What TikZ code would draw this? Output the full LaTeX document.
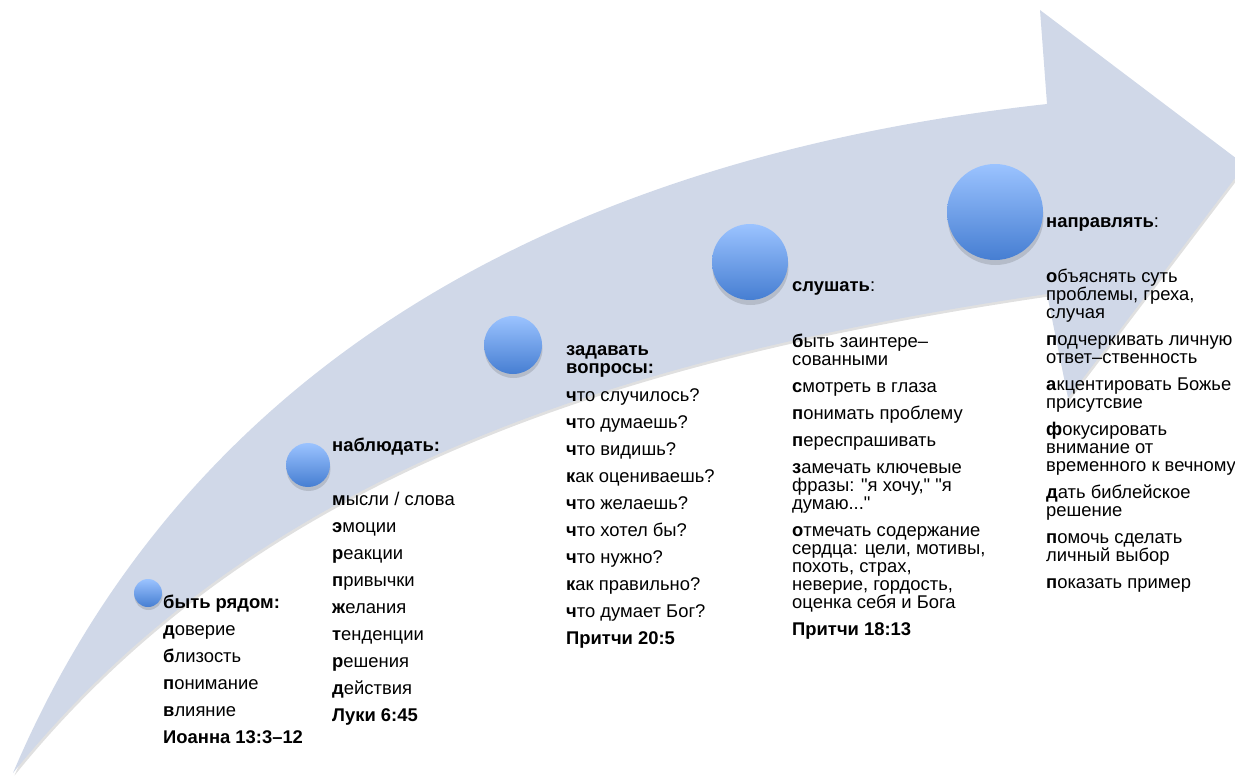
\documentclass[tikz,border=0pt]{standalone}
\usepackage{fontspec}
\setmainfont{Liberation Sans}[Ligatures=TeXOff]
\definecolor{arrowfill}{RGB}{208,216,232}
\definecolor{balltop}{RGB}{155,195,255}
\definecolor{ballbot}{RGB}{70,126,210}
\newcommand{\fl}{\rule{0pt}{13pt}}
\tikzset{
  lbl/.style={anchor=north west, align=left, inner sep=0pt, font=\fontsize{18.4}{18}\selectfont},
  ball/.style={circle, inner sep=0pt, shading=axis, top color=balltop, bottom color=ballbot},
  ballshadow/.style={circle, inner sep=0pt, fill=black, opacity=0.13}
}
\begin{document}
\begin{tikzpicture}[x=1pt,y=-1pt]
\useasboundingbox (0,0) rectangle (1235,776);
\clip (0,0) rectangle (1235,776);
% arrow shadow
\begin{scope}[shift={(1.5,2.5)}]
\fill[black, opacity=0.12] (13,773) .. controls (150,450) and (450,170) .. (1047,104) -- (1040,10) -- (1245,165) -- (1068,398) -- (1047,294) .. controls (600,360) and (250,480) .. (13,773) -- cycle;
\end{scope}
% arrow
\fill[arrowfill] (13,773) .. controls (150,450) and (450,170) .. (1047,104) -- (1040,10) -- (1245,165) -- (1068,398) -- (1047,294) .. controls (600,360) and (250,480) .. (13,773) -- cycle;
% ball shadows
\node[ballshadow, minimum size=28pt] at (148.5,596) {};
\node[ballshadow, minimum size=44pt] at (308.5,469) {};
\node[ballshadow, minimum size=58pt] at (513.5,349) {};
\node[ballshadow, minimum size=76pt] at (750.5,267) {};
\node[ballshadow, minimum size=96pt] at (995.5,217) {};
% balls
\node[ball, minimum size=28pt] (c1) at (148,593) {};
\node[ball, minimum size=44pt] (c2) at (308,465) {};
\node[ball, minimum size=58pt] (c3) at (513,345) {};
\node[ball, minimum size=76pt] (c4) at (750,262) {};
\node[ball, minimum size=96pt] (c5) at (995,212) {};
% texts
\node[lbl] (t1) at (163,595) {\fl\textbf{быть рядом:}\\[9pt]
\textbf{д}оверие\\[9pt]
\textbf{б}лизость\\[9pt]
\textbf{п}онимание\\[9pt]
\textbf{в}лияние\\[9pt]
\textbf{Иоанна 13:3–12}};
\node[lbl] (t2) at (332,438) {\fl\textbf{наблюдать:}\\[36pt]
\textbf{м}ысли / слова\\[9pt]
\textbf{э}моции\\[9pt]
\textbf{р}еакции\\[9pt]
\textbf{п}ривычки\\[9pt]
\textbf{ж}елания\\[9pt]
\textbf{т}енденции\\[9pt]
\textbf{р}ешения\\[9pt]
\textbf{д}ействия\\[9pt]
\textbf{Луки 6:45}};
\node[lbl] (t3) at (566,342) {\fl\textbf{задавать}\\
\textbf{вопросы:}\\[10pt]
\textbf{ч}то случилось?\\[9pt]
\textbf{ч}то думаешь?\\[9pt]
\textbf{ч}то видишь?\\[9pt]
\textbf{к}ак оцениваешь?\\[9pt]
\textbf{ч}то желаешь?\\[9pt]
\textbf{ч}то хотел бы?\\[9pt]
\textbf{ч}то нужно?\\[9pt]
\textbf{к}ак правильно?\\[9pt]
\textbf{ч}то думает Бог?\\[9pt]
\textbf{Притчи 20:5}};
\node[lbl] (t4) at (792,278) {\fl\textbf{слушать}:\\[38pt]
\textbf{б}ыть заинтере–\\
сованными\\[9pt]
\textbf{с}мотреть в глаза\\[9pt]
\textbf{п}онимать проблему\\[9pt]
\textbf{п}ереспрашивать\\[9pt]
\textbf{з}амечать ключевые\\
фразы: "я хочу," "я\\
думаю..."\\[9pt]
\textbf{о}тмечать содержание\\
сердца: цели, мотивы,\\
похоть, страх,\\
неверие, гордость,\\
оценка себя и Бога\\[9pt]
\textbf{Притчи 18:13}};
\node[lbl] (t5) at (1046,214) {\fl\textbf{направлять}:\\[37pt]
\textbf{о}бъяснять суть\\
проблемы, греха,\\
случая\\[9pt]
\textbf{п}одчеркивать личную\\
ответ–ственность\\[9pt]
\textbf{а}кцентировать Божье\\
присутсвие\\[9pt]
\textbf{ф}окусировать\\
внимание от\\
временного к вечному\\[9pt]
\textbf{д}ать библейское\\
решение\\[9pt]
\textbf{п}омочь сделать\\
личный выбор\\[9pt]
\textbf{п}оказать пример};
\end{tikzpicture}
\end{document}
